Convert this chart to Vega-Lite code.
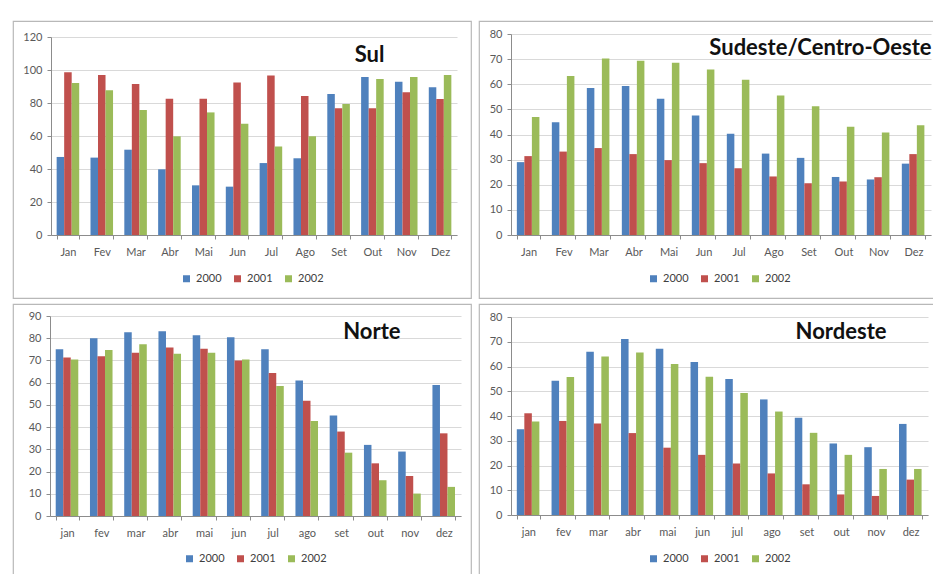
{
  "$schema": "https://vega.github.io/schema/vega-lite/v6.json",
  "padding": {"left": 12, "top": 20, "right": 0, "bottom": 0},
  "columns": 2,
  "spacing": {"row": 4, "column": 6},
  "resolve": {"scale": {"color": "independent"}, "legend": {"color": "independent"}},
  "datasets": {
    "sul": [
      {"mes": "Jan", "ano": "2000", "valor": 47.3}, {"mes": "Jan", "ano": "2001", "valor": 98.6}, {"mes": "Jan", "ano": "2002", "valor": 92.1},
      {"mes": "Fev", "ano": "2000", "valor": 46.9}, {"mes": "Fev", "ano": "2001", "valor": 97.0}, {"mes": "Fev", "ano": "2002", "valor": 87.7},
      {"mes": "Mar", "ano": "2000", "valor": 51.7}, {"mes": "Mar", "ano": "2001", "valor": 91.5}, {"mes": "Mar", "ano": "2002", "valor": 75.8},
      {"mes": "Abr", "ano": "2000", "valor": 39.8}, {"mes": "Abr", "ano": "2001", "valor": 82.6}, {"mes": "Abr", "ano": "2002", "valor": 59.8},
      {"mes": "Mai", "ano": "2000", "valor": 30.1}, {"mes": "Mai", "ano": "2001", "valor": 82.6}, {"mes": "Mai", "ano": "2002", "valor": 74.3},
      {"mes": "Jun", "ano": "2000", "valor": 29.3}, {"mes": "Jun", "ano": "2001", "valor": 92.5}, {"mes": "Jun", "ano": "2002", "valor": 67.5},
      {"mes": "Jul", "ano": "2000", "valor": 43.6}, {"mes": "Jul", "ano": "2001", "valor": 96.6}, {"mes": "Jul", "ano": "2002", "valor": 53.7},
      {"mes": "Ago", "ano": "2000", "valor": 46.5}, {"mes": "Ago", "ano": "2001", "valor": 84.2}, {"mes": "Ago", "ano": "2002", "valor": 59.8},
      {"mes": "Set", "ano": "2000", "valor": 85.5}, {"mes": "Set", "ano": "2001", "valor": 76.8}, {"mes": "Set", "ano": "2002", "valor": 79.4},
      {"mes": "Out", "ano": "2000", "valor": 95.8}, {"mes": "Out", "ano": "2001", "valor": 76.8}, {"mes": "Out", "ano": "2002", "valor": 94.5},
      {"mes": "Nov", "ano": "2000", "valor": 92.9}, {"mes": "Nov", "ano": "2001", "valor": 86.5}, {"mes": "Nov", "ano": "2002", "valor": 95.8},
      {"mes": "Dez", "ano": "2000", "valor": 89.5}, {"mes": "Dez", "ano": "2001", "valor": 82.4}, {"mes": "Dez", "ano": "2002", "valor": 97.0}
    ],
    "sudeste": [
      {"mes": "Jan", "ano": "2000", "valor": 29.0}, {"mes": "Jan", "ano": "2001", "valor": 31.4}, {"mes": "Jan", "ano": "2002", "valor": 47.0},
      {"mes": "Fev", "ano": "2000", "valor": 44.9}, {"mes": "Fev", "ano": "2001", "valor": 33.2}, {"mes": "Fev", "ano": "2002", "valor": 63.3},
      {"mes": "Mar", "ano": "2000", "valor": 58.5}, {"mes": "Mar", "ano": "2001", "valor": 34.6}, {"mes": "Mar", "ano": "2002", "valor": 70.2},
      {"mes": "Abr", "ano": "2000", "valor": 59.3}, {"mes": "Abr", "ano": "2001", "valor": 32.2}, {"mes": "Abr", "ano": "2002", "valor": 69.4},
      {"mes": "Mai", "ano": "2000", "valor": 54.2}, {"mes": "Mai", "ano": "2001", "valor": 29.8}, {"mes": "Mai", "ano": "2002", "valor": 68.6},
      {"mes": "Jun", "ano": "2000", "valor": 47.6}, {"mes": "Jun", "ano": "2001", "valor": 28.6}, {"mes": "Jun", "ano": "2002", "valor": 65.9},
      {"mes": "Jul", "ano": "2000", "valor": 40.3}, {"mes": "Jul", "ano": "2001", "valor": 26.6}, {"mes": "Jul", "ano": "2002", "valor": 61.8},
      {"mes": "Ago", "ano": "2000", "valor": 32.4}, {"mes": "Ago", "ano": "2001", "valor": 23.3}, {"mes": "Ago", "ano": "2002", "valor": 55.5},
      {"mes": "Set", "ano": "2000", "valor": 30.7}, {"mes": "Set", "ano": "2001", "valor": 20.6}, {"mes": "Set", "ano": "2002", "valor": 51.2},
      {"mes": "Out", "ano": "2000", "valor": 23.1}, {"mes": "Out", "ano": "2001", "valor": 21.3}, {"mes": "Out", "ano": "2002", "valor": 43.1},
      {"mes": "Nov", "ano": "2000", "valor": 22.1}, {"mes": "Nov", "ano": "2001", "valor": 23.0}, {"mes": "Nov", "ano": "2002", "valor": 40.8},
      {"mes": "Dez", "ano": "2000", "valor": 28.4}, {"mes": "Dez", "ano": "2001", "valor": 32.2}, {"mes": "Dez", "ano": "2002", "valor": 43.7}
    ],
    "norte": [
      {"mes": "jan", "ano": "2000", "valor": 75.0}, {"mes": "jan", "ano": "2001", "valor": 71.3}, {"mes": "jan", "ano": "2002", "valor": 70.4},
      {"mes": "fev", "ano": "2000", "valor": 80.0}, {"mes": "fev", "ano": "2001", "valor": 71.9}, {"mes": "fev", "ano": "2002", "valor": 74.7},
      {"mes": "mar", "ano": "2000", "valor": 82.7}, {"mes": "mar", "ano": "2001", "valor": 73.5}, {"mes": "mar", "ano": "2002", "valor": 77.3},
      {"mes": "abr", "ano": "2000", "valor": 83.1}, {"mes": "abr", "ano": "2001", "valor": 75.8}, {"mes": "abr", "ano": "2002", "valor": 73.0},
      {"mes": "mai", "ano": "2000", "valor": 81.3}, {"mes": "mai", "ano": "2001", "valor": 75.3}, {"mes": "mai", "ano": "2002", "valor": 73.5},
      {"mes": "jun", "ano": "2000", "valor": 80.4}, {"mes": "jun", "ano": "2001", "valor": 70.0}, {"mes": "jun", "ano": "2002", "valor": 70.4},
      {"mes": "jul", "ano": "2000", "valor": 75.0}, {"mes": "jul", "ano": "2001", "valor": 64.4}, {"mes": "jul", "ano": "2002", "valor": 58.5},
      {"mes": "ago", "ano": "2000", "valor": 61.0}, {"mes": "ago", "ano": "2001", "valor": 51.9}, {"mes": "ago", "ano": "2002", "valor": 42.8},
      {"mes": "set", "ano": "2000", "valor": 45.2}, {"mes": "set", "ano": "2001", "valor": 38.0}, {"mes": "set", "ano": "2002", "valor": 28.5},
      {"mes": "out", "ano": "2000", "valor": 32.0}, {"mes": "out", "ano": "2001", "valor": 23.7}, {"mes": "out", "ano": "2002", "valor": 16.1},
      {"mes": "nov", "ano": "2000", "valor": 29.0}, {"mes": "nov", "ano": "2001", "valor": 18.0}, {"mes": "nov", "ano": "2002", "valor": 10.1},
      {"mes": "dez", "ano": "2000", "valor": 59.0}, {"mes": "dez", "ano": "2001", "valor": 37.2}, {"mes": "dez", "ano": "2002", "valor": 13.1}
    ],
    "nordeste": [
      {"mes": "jan", "ano": "2000", "valor": 34.6}, {"mes": "jan", "ano": "2001", "valor": 41.1}, {"mes": "jan", "ano": "2002", "valor": 37.8},
      {"mes": "fev", "ano": "2000", "valor": 54.2}, {"mes": "fev", "ano": "2001", "valor": 38.0}, {"mes": "fev", "ano": "2002", "valor": 55.8},
      {"mes": "mar", "ano": "2000", "valor": 66.0}, {"mes": "mar", "ano": "2001", "valor": 37.0}, {"mes": "mar", "ano": "2002", "valor": 64.0},
      {"mes": "abr", "ano": "2000", "valor": 71.1}, {"mes": "abr", "ano": "2001", "valor": 33.1}, {"mes": "abr", "ano": "2002", "valor": 65.7},
      {"mes": "mai", "ano": "2000", "valor": 67.2}, {"mes": "mai", "ano": "2001", "valor": 27.2}, {"mes": "mai", "ano": "2002", "valor": 61.0},
      {"mes": "jun", "ano": "2000", "valor": 61.8}, {"mes": "jun", "ano": "2001", "valor": 24.3}, {"mes": "jun", "ano": "2002", "valor": 55.9},
      {"mes": "jul", "ano": "2000", "valor": 55.0}, {"mes": "jul", "ano": "2001", "valor": 20.8}, {"mes": "jul", "ano": "2002", "valor": 49.3},
      {"mes": "ago", "ano": "2000", "valor": 46.7}, {"mes": "ago", "ano": "2001", "valor": 16.8}, {"mes": "ago", "ano": "2002", "valor": 41.8},
      {"mes": "set", "ano": "2000", "valor": 39.3}, {"mes": "set", "ano": "2001", "valor": 12.4}, {"mes": "set", "ano": "2002", "valor": 33.2},
      {"mes": "out", "ano": "2000", "valor": 28.9}, {"mes": "out", "ano": "2001", "valor": 8.3}, {"mes": "out", "ano": "2002", "valor": 24.3},
      {"mes": "nov", "ano": "2000", "valor": 27.4}, {"mes": "nov", "ano": "2001", "valor": 7.7}, {"mes": "nov", "ano": "2002", "valor": 18.6},
      {"mes": "dez", "ano": "2000", "valor": 36.8}, {"mes": "dez", "ano": "2001", "valor": 14.3}, {"mes": "dez", "ano": "2002", "valor": 18.6}
    ]
  },
  "concat": [
    {
      "width": 458, "height": 277,
      "data": {"name": "sul"},
      "mark": {"type": "bar"},
      "encoding": {
        "x": {"field": "mes", "type": "nominal", "sort": null,
              "scale": {"range": [38, 444], "paddingInner": 0.333, "paddingOuter": 0.167},
              "axis": {"offset": -63, "title": null}},
        "xOffset": {"field": "ano", "type": "nominal"},
        "y": {"field": "valor", "type": "quantitative",
              "scale": {"domain": [0, 120], "nice": false, "range": [214, 16]},
              "axis": {"offset": -38, "values": [0, 20, 40, 60, 80, 100, 120],
                       "title": "Sul", "titleX": 333, "titleY": 40}},
        "color": {"field": "ano", "type": "nominal",
                  "scale": {"domain": ["2000", "2001", "2002"], "range": ["#4F81BD", "#C0504D", "#9BBB59"]},
                  "legend": {"orient": "none", "legendX": 168, "legendY": 252, "direction": "horizontal", "title": null}}
      }
    },
    {
      "width": 456, "height": 277,
      "data": {"name": "sudeste"},
      "mark": {"type": "bar"},
      "encoding": {
        "x": {"field": "mes", "type": "nominal", "sort": null,
              "scale": {"range": [32, 452], "paddingInner": 0.333, "paddingOuter": 0.167},
              "axis": {"offset": -63, "title": null}},
        "xOffset": {"field": "ano", "type": "nominal"},
        "y": {"field": "valor", "type": "quantitative",
              "scale": {"domain": [0, 80], "nice": false, "range": [214, 13]},
              "axis": {"offset": -32, "values": [0, 10, 20, 30, 40, 50, 60, 70, 80],
                       "title": "Sudeste/Centro-Oeste", "titleX": 420, "titleY": 33}},
        "color": {"field": "ano", "type": "nominal",
                  "scale": {"domain": ["2000", "2001", "2002"], "range": ["#4F81BD", "#C0504D", "#9BBB59"]},
                  "legend": {"orient": "none", "legendX": 169, "legendY": 252, "direction": "horizontal", "title": null}}
      }
    },
    {
      "width": 458, "height": 272,
      "data": {"name": "norte"},
      "mark": {"type": "bar"},
      "encoding": {
        "x": {"field": "mes", "type": "nominal", "sort": null,
              "scale": {"range": [37, 448], "paddingInner": 0.333, "paddingOuter": 0.167},
              "axis": {"offset": -60, "title": null}},
        "xOffset": {"field": "ano", "type": "nominal"},
        "y": {"field": "valor", "type": "quantitative",
              "scale": {"domain": [0, 90], "nice": false, "range": [212, 12]},
              "axis": {"offset": -37, "values": [0, 10, 20, 30, 40, 50, 60, 70, 80, 90],
                       "title": "Norte", "titleX": 350, "titleY": 34}},
        "color": {"field": "ano", "type": "nominal",
                  "scale": {"domain": ["2000", "2001", "2002"], "range": ["#4F81BD", "#C0504D", "#9BBB59"]},
                  "legend": {"orient": "none", "legendX": 171, "legendY": 249, "direction": "horizontal", "title": null}}
      }
    },
    {
      "width": 456, "height": 272,
      "data": {"name": "nordeste"},
      "mark": {"type": "bar"},
      "encoding": {
        "x": {"field": "mes", "type": "nominal", "sort": null,
              "scale": {"range": [32, 449], "paddingInner": 0.333, "paddingOuter": 0.167},
              "axis": {"offset": -61, "title": null}},
        "xOffset": {"field": "ano", "type": "nominal"},
        "y": {"field": "valor", "type": "quantitative",
              "scale": {"domain": [0, 80], "nice": false, "range": [211, 13]},
              "axis": {"offset": -32, "values": [0, 10, 20, 30, 40, 50, 60, 70, 80],
                       "title": "Nordeste", "titleX": 375, "titleY": 34}},
        "color": {"field": "ano", "type": "nominal",
                  "scale": {"domain": ["2000", "2001", "2002"], "range": ["#4F81BD", "#C0504D", "#9BBB59"]},
                  "legend": {"orient": "none", "legendX": 169, "legendY": 249, "direction": "horizontal", "title": null}}
      }
    }
  ],
  "config": {
    "font": "Lato",
    "view": {"stroke": "#b8b8b8", "strokeWidth": 1.2},
    "axis": {
      "labelFont": "Lato", "labelFontSize": 11, "labelColor": "#595959",
      "domainColor": "#8c8c8c", "tickColor": "#8c8c8c", "gridColor": "#d9d9d9",
      "tickSize": 4
    },
    "axisX": {"tickBand": "extent", "labelAngle": 0, "labelPadding": 7},
    "axisY": {
      "labelPadding": 5, "grid": true,
      "titleFont": "Lato", "titleFontSize": 22, "titleFontWeight": "bold", "titleColor": "#111111",
      "titleAngle": 0, "titleAlign": "right", "titleBaseline": "alphabetic"
    },
    "legend": {
      "symbolType": "square", "symbolSize": 49, "symbolStrokeWidth": 0,
      "labelFont": "Lato", "labelFontSize": 11, "labelColor": "#404040",
      "labelOffset": 4, "columnPadding": 10
    }
  }
}
